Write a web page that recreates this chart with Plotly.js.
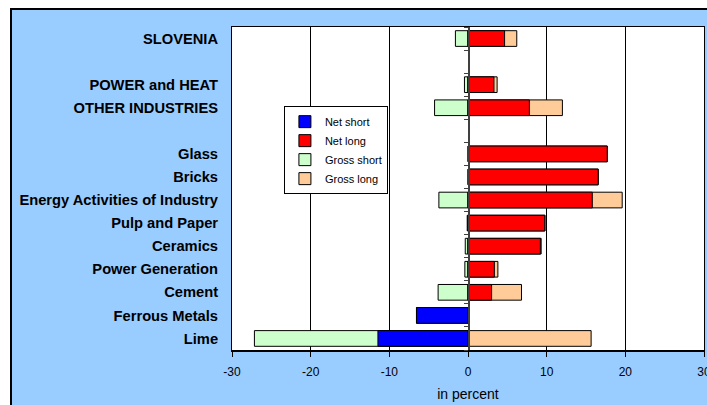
<!DOCTYPE html>
<html>
<head>
<meta charset="utf-8">
<script src="https://cdn.plot.ly/plotly-3.0.1.min.js"></script>
<style>
  html, body { margin: 0; padding: 0; width: 707px; height: 405px; overflow: hidden; background: #ffffff; }
  #frame { position: absolute; left: 10px; top: 8px; width: 720px; height: 420px;
           border-left: 2px solid #000; border-top: 2px solid #000; background: #99CCFF; }
  #chart { position: absolute; left: 0; top: 0; width: 695px; height: 395px; }
</style>
</head>
<body>
<div id="frame"><div id="chart"></div></div>
<script>
// Categories listed bottom to top (blank strings are the empty spacer rows)
var categories = ["Lime", "Ferrous Metals", "Cement", "Power Generation", "Ceramics",
  "Pulp and Paper", "Energy Activities of Industry", "Bricks", "Glass", " ",
  "OTHER INDUSTRIES", "POWER and HEAT", "  ", "SLOVENIA"];

var grossShort = [-27.15, -6.55, -3.8, -0.4, -0.35, -0.1, -3.7, null, null, null, -4.25, -0.45, null, -1.6];
var grossLong  = [15.65, null, 6.8, 3.8, 9.3, 9.8, 19.6, 16.55, 17.7, null, 12.0, 3.7, null, 6.2];
var netShort   = [-11.45, -6.55, null, null, null, null, null, null, null, null, null, null, null, null];
var netLong    = [null, null, 3.0, 3.35, 9.2, 9.75, 15.8, 16.55, 17.7, null, 7.8, 3.3, null, 4.65];

var xTicks = [-30, -20, -10, 0, 10, 20, 30];

function barTrace(name, values, color, rank) {
  return {
    type: "bar", orientation: "h", name: name,
    x: values, y: categories,
    marker: { color: color, line: { color: "#000000", width: 1 } },
    legendrank: rank, hoverinfo: "x+y"
  };
}

var traces = [
  barTrace("Gross short", grossShort, "#CCFFCC", 3),
  barTrace("Gross long", grossLong, "#FFCC99", 4),
  barTrace("Net short", netShort, "#0000FF", 1),
  barTrace("Net long", netLong, "#FF0000", 2),
  { type: "bar", orientation: "h", x: categories.map(function () { return null; }), y: categories,
    yaxis: "y2", showlegend: false, hoverinfo: "skip" }
];

var layout = {
  width: 695, height: 395,
  margin: { l: 220, r: 3, t: 17, b: 55 },
  paper_bgcolor: "rgba(0,0,0,0)",
  plot_bgcolor: "#FFFFFF",
  barmode: "overlay",
  bargap: 0.32,
  font: { family: "Liberation Sans, Arial, sans-serif", color: "#000000" },
  xaxis: {
    range: [-30, 30], tickvals: xTicks, ticktext: xTicks.map(String),
    showgrid: true, gridcolor: "#000000", gridwidth: 1,
    zeroline: false,
    showline: true, mirror: true, linecolor: "#000000", linewidth: 1.5,
    ticks: "outside", ticklen: 5, tickcolor: "#000000", tickwidth: 1,
    tickfont: { size: 12, color: "#000000" },
    ticklabelstandoff: 5, ticklabeloverflow: "allow",
    title: { text: "in percent", font: { size: 14, color: "#000000" }, standoff: 11 }
  },
  yaxis: {
    type: "category", categoryorder: "array", categoryarray: categories,
    range: [-0.5, categories.length - 0.5],
    showgrid: false, zeroline: false,
    showline: true, mirror: true, linecolor: "#000000", linewidth: 1,
    ticks: "", ticklabelstandoff: 10,
    tickfont: { size: 14.7, color: "#000000", weight: "bold" }
  },
  yaxis2: {
    type: "category", categoryorder: "array", categoryarray: categories,
    range: [-0.5, categories.length - 0.5],
    overlaying: "y", anchor: "free", position: 0.5, side: "left",
    showgrid: false, zeroline: false, showticklabels: false,
    showline: true, linecolor: "#404040", linewidth: 1.5,
    ticks: "outside", tickson: "boundaries", ticklen: 4, tickcolor: "#404040", tickwidth: 1
  },
  legend: {
    x: 0.11, y: 0.755, xanchor: "left", yanchor: "top",
    bgcolor: "#FFFFFF", bordercolor: "#000000", borderwidth: 1,
    font: { size: 11, color: "#000000" },
    traceorder: "normal", itemclick: false, itemdoubleclick: false
  },
  showlegend: true
};

Plotly.newPlot("chart", traces, layout, { displayModeBar: false, staticPlot: true });
</script>
</body>
</html>
